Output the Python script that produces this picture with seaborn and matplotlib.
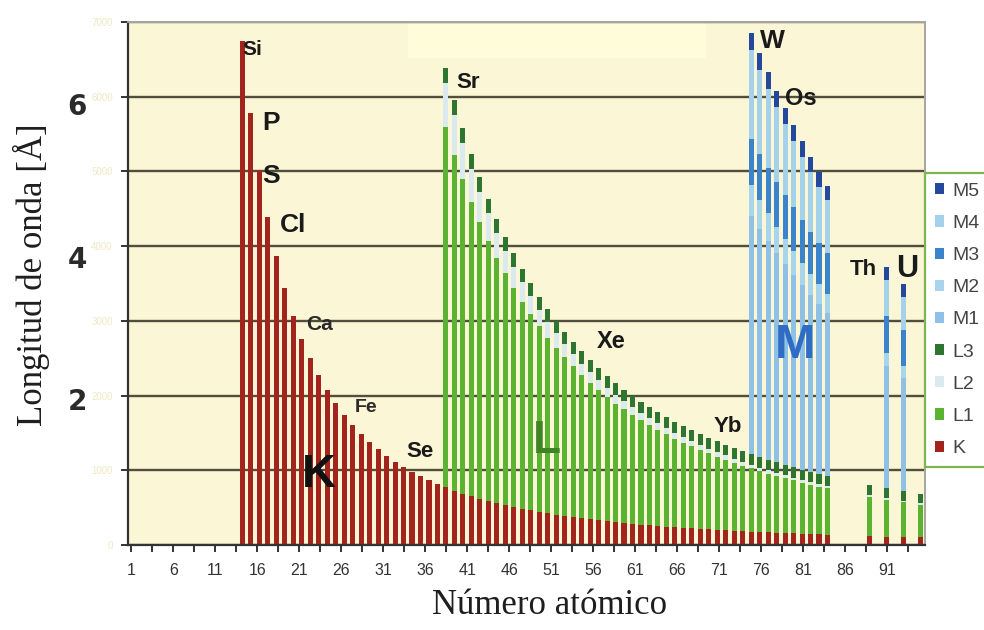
import numpy as np
import pandas as pd
import matplotlib
matplotlib.use("Agg")
import matplotlib.pyplot as plt
import matplotlib.transforms as mtransforms
from matplotlib.patches import Patch, Rectangle
from matplotlib.ticker import FixedLocator, FuncFormatter
import seaborn as sns

# ---------------- data (absorption-edge wavelengths, Angstrom) ----------------
z_k = list(range(14, 84)) + [88, 90, 92, 94]
k_edge = [6.742, 5.779, 5.016, 4.393, 3.867, 3.436, 3.070, 2.760, 2.497, 2.269,
          2.070, 1.896, 1.743, 1.608, 1.488, 1.381, 1.284, 1.196, 1.117, 1.045,
          0.980, 0.920, 0.865, 0.816, 0.770, 0.728, 0.689, 0.653, 0.620, 0.589,
          0.561, 0.534, 0.509, 0.486, 0.464, 0.444, 0.425, 0.407, 0.390, 0.374,
          0.359, 0.345, 0.331, 0.319, 0.307, 0.295, 0.285, 0.274, 0.265, 0.256,
          0.247, 0.238, 0.231, 0.223, 0.216, 0.209, 0.202, 0.196, 0.190, 0.184,
          0.178, 0.173, 0.168, 0.163, 0.158, 0.154, 0.149, 0.145, 0.141, 0.137,
          0.119, 0.113, 0.107, 0.102]

z_l = list(range(38, 84)) + [88, 90, 92, 94]
l1_edge = [5.595, 5.225, 4.897, 4.595, 4.326, 4.074, 3.846, 3.634, 3.440, 3.258,
           3.086, 2.926, 2.777, 2.639, 2.510, 2.390, 2.274, 2.170, 2.070, 1.979,
           1.893, 1.814, 1.740, 1.669, 1.602, 1.540, 1.480, 1.424, 1.371, 1.320,
           1.271, 1.226, 1.182, 1.141, 1.100, 1.061, 1.025, 0.990, 0.956, 0.924,
           0.893, 0.864, 0.836, 0.808, 0.782, 0.757, 0.645, 0.606, 0.570, 0.537]
l2_edge = [6.178, 5.751, 5.374, 5.030, 4.723, 4.439, 4.179, 3.941, 3.723, 3.518,
           3.327, 3.148, 2.983, 2.831, 2.688, 2.555, 2.428, 2.314, 2.205, 2.105,
           2.011, 1.925, 1.844, 1.768, 1.696, 1.628, 1.563, 1.502, 1.445, 1.390,
           1.338, 1.289, 1.243, 1.198, 1.155, 1.113, 1.074, 1.037, 1.001, 0.967,
           0.934, 0.903, 0.873, 0.844, 0.816, 0.789, 0.671, 0.630, 0.592, 0.557]
l3_edge = [6.391, 5.961, 5.577, 5.229, 4.920, 4.631, 4.369, 4.127, 3.907, 3.700,
           3.504, 3.324, 3.156, 3.001, 2.856, 2.721, 2.591, 2.474, 2.363, 2.261,
           2.166, 2.079, 1.997, 1.920, 1.846, 1.777, 1.712, 1.650, 1.592, 1.536,
           1.483, 1.434, 1.386, 1.341, 1.297, 1.255, 1.215, 1.177, 1.140, 1.106,
           1.072, 1.040, 1.009, 0.979, 0.951, 0.924, 0.803, 0.761, 0.722, 0.687]

z_m = list(range(74, 84)) + [90, 92]
m1_edge = [4.397, 4.229, 4.066, 3.906, 3.762, 3.620, 3.481, 3.347, 3.220, 3.100, 2.393, 2.235]
m2_edge = [4.815, 4.623, 4.441, 4.262, 4.096, 3.939, 3.781, 3.629, 3.489, 3.354, 2.567, 2.393]
m3_edge = [5.436, 5.238, 5.046, 4.860, 4.688, 4.520, 4.355, 4.193, 4.044, 3.903, 3.064, 2.881]
m4_edge = [6.623, 6.361, 6.105, 5.859, 5.630, 5.412, 5.198, 4.989, 4.794, 4.612, 3.552, 3.326]
m5_edge = [6.854, 6.584, 6.326, 6.078, 5.843, 5.620, 5.402, 5.190, 4.991, 4.806, 3.721, 3.491]

edge_order = ["M5", "M4", "M3", "M2", "M1", "L3", "L2", "L1", "K"]
xtick_labels = [str(v) for v in range(1, 92, 5)]
ytick_values = list(range(0, 8))

# ---------------- styles ----------------
palette = {"K": "#a3231d", "L1": "#5bb431", "L2": "#dbeaef", "L3": "#2d7530",
           "M1": "#8fc0e6", "M2": "#a9d5ec", "M3": "#3b84cc", "M4": "#a4d2eb",
           "M5": "#24489b"}

series = [("K", z_k, k_edge), ("L1", z_l, l1_edge), ("L2", z_l, l2_edge),
          ("L3", z_l, l3_edge), ("M1", z_m, m1_edge), ("M2", z_m, m2_edge),
          ("M3", z_m, m3_edge), ("M4", z_m, m4_edge), ("M5", z_m, m5_edge)]
frames = [pd.DataFrame({"Z": zs, "wavelength": vals, "edge": name})
          for name, zs, vals in series]
df = pd.concat(frames, ignore_index=True)

plt.rcParams["font.family"] = ["Liberation Sans", "DejaVu Sans"]

fig = plt.figure(figsize=(9.84, 6.3), dpi=100, facecolor="white")
ax = fig.add_axes([128 / 984, 1 - 545 / 630, 797 / 984, 523 / 630])
ax.set_facecolor("#fbf6d5")

# larger edges are drawn first, smaller ones overlap them -> stacked look
sns.barplot(data=df, x="Z", y="wavelength", hue="edge", hue_order=edge_order,
            palette=palette, native_scale=True, dodge=False, width=0.6,
            saturation=1, errorbar=None, legend=False, linewidth=0, ax=ax)

ax.set_xlim(0.5, 94.5)
ax.set_ylim(0, 7)

# pale title placeholder box
ax.add_patch(Rectangle((0.351, 0.931), 0.374, 0.069, transform=ax.transAxes,
                       facecolor="#fffcd9", edgecolor="none", zorder=0.2))

# grid & spines
ax.set_axisbelow(True)
ax.yaxis.grid(True, color="#524e3e", linewidth=1.7)
ax.xaxis.grid(False)
for side in ("left", "bottom"):
    ax.spines[side].set_color("#333333")
    ax.spines[side].set_linewidth(1.6)
for side in ("top", "right"):
    ax.spines[side].set_color("#a6a6a0")
    ax.spines[side].set_linewidth(1.4)

# x ticks (Excel-style category labels)
major_pos = np.linspace(0.9, 90.0, len(xtick_labels))
minor_pos = (major_pos[:-1] + major_pos[1:]) / 2
ax.xaxis.set_major_locator(FixedLocator(major_pos))
ax.xaxis.set_minor_locator(FixedLocator(list(minor_pos) + [major_pos[-1] + 2.475]))
ax.set_xticklabels(xtick_labels)
ax.tick_params(axis="x", which="both", direction="out", length=5, width=1.4,
               color="#333333", labelsize=11.5, labelcolor="#333333", pad=8)

# y ticks: faint original labels
ax.set_yticks(ytick_values)
ax.yaxis.set_major_formatter(FuncFormatter(lambda v, p: f"{v * 1000:.0f}"))
ax.tick_params(axis="y", direction="out", length=5, width=1.4, color="#333333",
               labelsize=7, labelcolor="#eee8c2", pad=6)

# bold overlay labels 2, 4, 6
trans = mtransforms.blended_transform_factory(ax.transAxes, ax.transData)
for txt, yv in (("6", 5.76), ("4", 3.71), ("2", 1.81)):
    ax.text(-0.064, yv, txt, transform=trans, ha="center", va="baseline",
            fontsize=20, fontweight="bold", color="#2a2a2a",
            family=["DejaVu Sans"])

# axis titles
ax.set_xlabel("Número atómico", family=["Liberation Serif", "DejaVu Serif"],
              fontsize=25, color="#1e1e1e")
ax.xaxis.set_label_coords((550 - 128) / 797, (545 - 605) / 523)
ax.xaxis.label.set_va("center")
ax.set_ylabel("Longitud de onda [Å]", family=["Liberation Serif", "DejaVu Serif"],
              fontsize=25, color="#1e1e1e")
ax.yaxis.set_label_coords((31 - 128) / 797, (545 - 275) / 523)
ax.yaxis.label.set_va("center")

# element annotations
annotations = [
    ("Si", 13.95, 6.56, 15, "#1a1a1a"), ("P", 16.35, 5.56, 19, "#1a1a1a"),
    ("S", 16.35, 4.85, 19, "#1a1a1a"), ("Cl", 18.4, 4.19, 19, "#1a1a1a"),
    ("Ca", 21.55, 2.88, 15, "#2a2a2a"), ("Fe", 27.2, 1.78, 14, "#2a2a2a"),
    ("Se", 33.35, 1.18, 16, "#1a1a1a"), ("K", 21.0, 0.78, 34, "#111111"),
    ("Sr", 39.25, 6.12, 16, "#1a1a1a"), ("Xe", 55.75, 2.64, 17, "#1a1a1a"),
    ("L", 48.2, 1.23, 33, "#3f8526"), ("Yb", 69.55, 1.51, 16, "#1a1a1a"),
    ("W", 75.0, 6.65, 19, "#1a1a1a"), ("Os", 77.95, 5.89, 17, "#1a1a1a"),
    ("M", 76.75, 2.50, 35, "#2f6cc4"), ("Th", 85.6, 3.61, 16, "#1a1a1a"),
    ("U", 91.1, 3.59, 22, "#1a1a1a"),
]
for txt, xv, yv, fs, col in annotations:
    ax.text(xv, yv, txt, ha="left", va="baseline", fontsize=fs,
            fontweight="bold", color=col, zorder=5)

# legend (partly cut by the right edge, as in the original)
handles = [Patch(facecolor=palette[e], edgecolor="none") for e in edge_order]
leg = ax.legend(handles, edge_order, loc="upper left",
                bbox_to_anchor=(925 / 984, 1 - 173 / 630),
                bbox_transform=fig.transFigure, frameon=True, fancybox=False,
                edgecolor="#7db650", facecolor="white", framealpha=1,
                fontsize=14, handlelength=0.5, handleheight=0.5,
                handletextpad=0.4, labelspacing=0.78, borderpad=0.5,
                borderaxespad=0)
leg.get_frame().set_linewidth(1.6)
for t in leg.get_texts():
    t.set_color("#444444")

fig.savefig("out.png", dpi=100, facecolor="white")
